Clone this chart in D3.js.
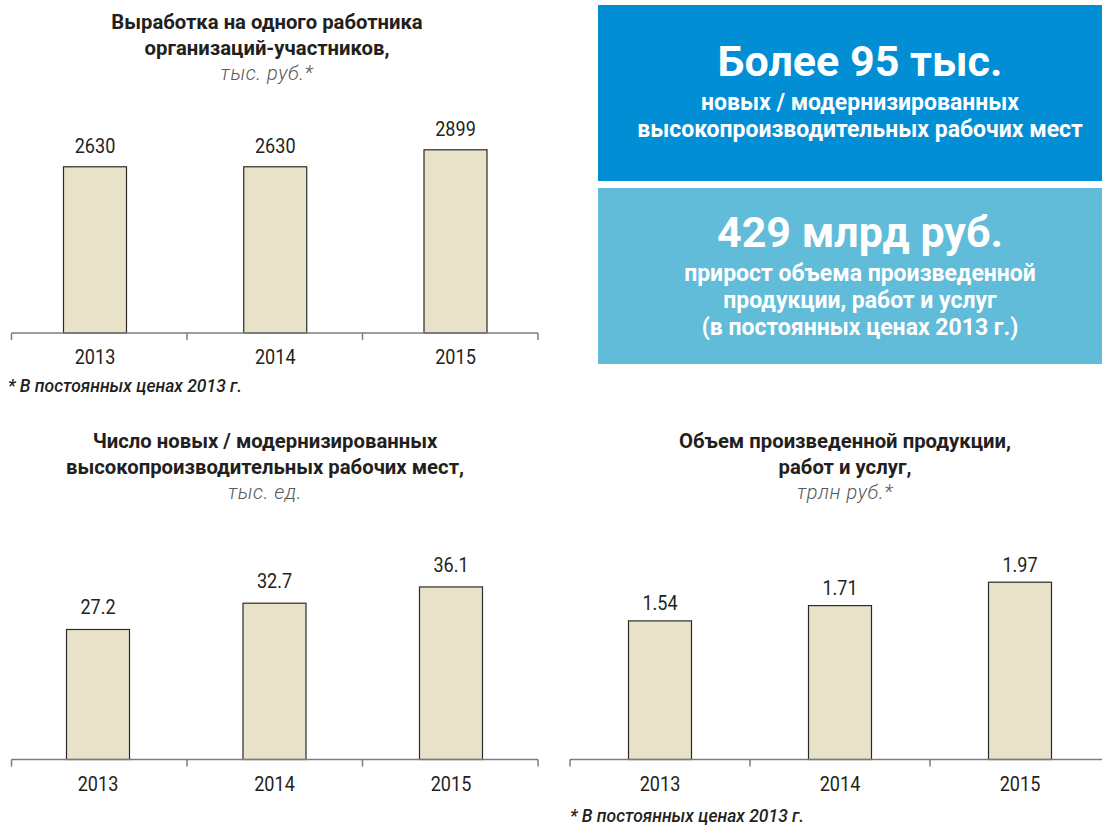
<!DOCTYPE html>
<html>
<head>
<meta charset="utf-8">
<script src="https://cdn.jsdelivr.net/npm/d3@7"></script>
<style>
  body { margin: 0; background: #fff; }
  .num { font-family: "Roboto", sans-serif; font-size: 21px; fill: #231f20; }
  .ttl { font-family: "Roboto", sans-serif; font-weight: 700; font-size: 20.3px; fill: #231f20; }
  .sub { font-family: "Roboto", sans-serif; font-weight: 300; font-style: italic; font-size: 20px; letter-spacing: 0.6px; fill: #58595b; }
  .note { font-family: "Roboto", sans-serif; font-weight: 500; font-style: italic; font-size: 17.5px; fill: #231f20; }
  .box { font-family: "Roboto", sans-serif; font-weight: 700; fill: #fff; }
</style>
</head>
<body>
<div id="chart"></div>
<script>
// data
const years = ["2013", "2014", "2015"];
const output = [2630, 2630, 2899];
const jobs = [27.2, 32.7, 36.1];
const volume = [1.54, 1.71, 1.97];

const titleOutput = ["Выработка на одного работника", "организаций-участников,"];
const unitOutput = "тыс. руб.*";
const titleJobs = ["Число новых / модернизированных", "высокопроизводительных рабочих мест,"];
const unitJobs = "тыс. ед.";
const titleVolume = ["Объем произведенной продукции,", "работ и услуг,"];
const unitVolume = "трлн руб.*";
const footnote = "* В постоянных ценах 2013 г.";

const box1 = ["Более 95 тыс.", "новых / модернизированных", "высокопроизводительных рабочих мест"];
const box2 = ["429 млрд руб.", "прирост объема произведенной", "продукции, работ и услуг", "(в постоянных ценах 2013 г.)"];

const svg = d3.select("#chart").append("svg")
    .attr("width", 1102)
    .attr("height", 825);

// narrow numbers: squeeze horizontally a bit
const squeeze = (x, y) => `translate(${x},${y}) scale(0.86,1)`;

function barChart(o) {
    const g = svg.append("g");
    const x = d3.scaleBand().domain(years).range(o.axis);
    const xc = d3.scalePoint().domain(years).range(o.centers);
    const y = d3.scaleLinear().domain(o.domain).range([o.base, o.top]);
    const bw = 63;

    // title
    const t = g.append("text").attr("text-anchor", "middle");
    o.title.forEach((s, i) => {
        t.append("tspan").attr("class", "ttl").attr("x", o.tx).attr("y", o.ty + i * 25.5).text(s);
    });
    g.append("text").attr("class", "sub").attr("text-anchor", "middle")
        .attr("x", o.tx).attr("y", o.ty + 51).text(o.unit);

    // bars
    g.selectAll("rect.bar")
        .data(o.values)
        .join("rect")
        .attr("class", "bar")
        .attr("x", (d, i) => xc(years[i]) - bw / 2)
        .attr("y", d => y(d))
        .attr("width", bw)
        .attr("height", d => o.base - y(d))
        .attr("fill", "#e8e2c9")
        .attr("stroke", "#2b2b2b")
        .attr("stroke-width", 1.2);

    g.selectAll("text.val")
        .data(o.values)
        .join("text")
        .attr("class", "num val")
        .attr("text-anchor", "middle")
        .attr("transform", (d, i) => squeeze(xc(years[i]), y(d) - o.gap))
        .text(d => o.fmt(d));

    // axis line + boundary ticks
    const ticks = years.map(yr => x(yr)).concat([o.axis[1]]);
    g.append("line")
        .attr("x1", o.axis[0]).attr("x2", o.axis[1])
        .attr("y1", o.base).attr("y2", o.base)
        .attr("stroke", "#7d7d7d").attr("stroke-width", 1.5);
    g.selectAll("line.tick")
        .data(ticks)
        .join("line")
        .attr("class", "tick")
        .attr("x1", d => d).attr("x2", d => d)
        .attr("y1", o.base).attr("y2", o.base + 7)
        .attr("stroke", "#7d7d7d").attr("stroke-width", 1.5);

    g.selectAll("text.yr")
        .data(years)
        .join("text")
        .attr("class", "num yr")
        .attr("text-anchor", "middle")
        .attr("transform", d => squeeze(xc(d), o.base + 31))
        .text(d => d);
}

barChart({values: output, title: titleOutput, unit: unitOutput, tx: 267, ty: 29,
    axis: [11.5, 538], centers: [95, 455.5], domain: [0, 3000], base: 333, top: 143.4,
    gap: 14, fmt: d3.format("d")});
barChart({values: jobs, title: titleJobs, unit: unitJobs, tx: 265, ty: 448,
    axis: [11.5, 538], centers: [98, 451], domain: [0, 40], base: 759.5, top: 568.3,
    gap: 15, fmt: d3.format(".1f")});
barChart({values: volume, title: titleVolume, unit: unitVolume, tx: 845, ty: 448,
    axis: [570, 1110], centers: [660, 1020], domain: [0, 2], base: 759.5, top: 579.5,
    gap: 10.5, fmt: d3.format(".2f")});

svg.append("text").attr("class", "note").attr("x", 8).attr("y", 392).text(footnote);
svg.append("text").attr("class", "note").attr("x", 570).attr("y", 822).text(footnote);

// highlight boxes: headline + caption lines
function box(lines, y0, h, color, bigY) {
    svg.append("rect").attr("x", 598).attr("y", y0).attr("width", 504).attr("height", h).attr("fill", color);
    const t = svg.append("text").attr("class", "box").attr("text-anchor", "middle");
    t.append("tspan").attr("x", 860).attr("y", bigY).style("font-size", "43px").text(lines[0]);
    lines.slice(1).forEach((s, i) => {
        t.append("tspan").attr("x", 860).attr("y", bigY + 34 + i * 27).style("font-size", "23px").text(s);
    });
}
box(box1, 5, 176, "#028ed4", 76);
box(box2, 188, 176, "#61bcd9", 247);
</script>
</body>
</html>
